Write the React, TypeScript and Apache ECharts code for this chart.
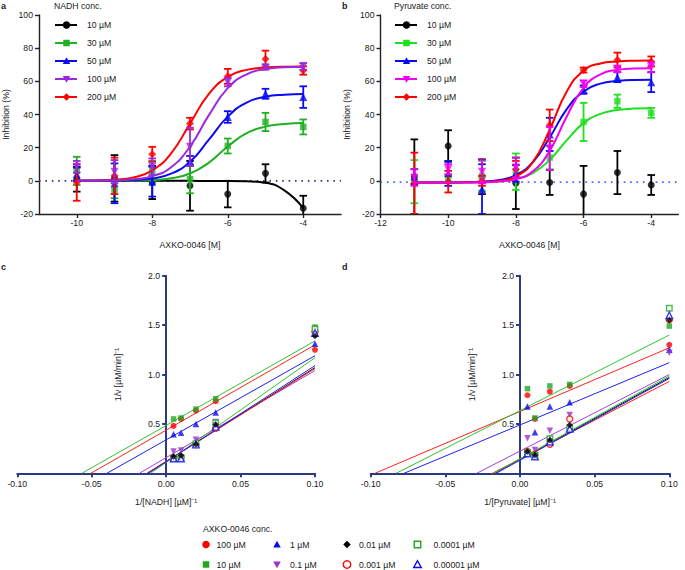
import React, { useEffect, useRef } from 'react';
import * as echarts from 'echarts';

const FONT = '"Liberation Sans", Arial, Helvetica, sans-serif';
const TXT = '#1a1a1a';
const NAVY = '#2c3a84';

// ---------- Panel a (NADH) ----------
const nadhConc = ['10 µM', '30 µM', '50 µM', '100 µM', '200 µM'];
const aX = [-10, -9, -8, -7, -6, -5, -4];
const aMean10 = [1, 1.5, -1, -3, -8, 4.5, -16.5];
const aErr10 = [7.5, 14, 10, 15, 8, 5.5, 7.5];
const aMean30 = [6, -5.5, 6, 1, 21, 35.5, 32.5];
const aErr30 = [8.5, 5, 6, 8.5, 4.5, 5.5, 4.5];
const aMean50 = [4, -1.5, -0.5, 12, 38.5, 52.5, 50.5];
const aErr50 = [4, 12, 9, 3, 3.5, 3, 6.5];
const aMean100 = [8.5, 5.5, 8.5, 20.5, 59.5, 68.5, 69];
const aErr100 = [3.5, 7, 5, 11.5, 2.5, 1.5, 2];
const aMean200 = [-1, 3, 16, 34.5, 63, 73.5, 66.5];
const aErr200 = [11, 11, 4.5, 3.5, 4.5, 5, 2.5];
const aCurveX = [-10, -9.5, -9, -8.5, -8, -7.5, -7, -6.5, -6, -5.5, -5, -4.5, -4];
const aCurve10 = [0, 0, 0, 0, 0, 0, 0, -0.1, -0.1, -0.3, -1.2, -5.8, -16.5];
const aCurve30 = [0, 0, 0.1, 0.2, 0.5, 1.5, 4.4, 11.0, 20.7, 28.7, 32.7, 34.2, 34.8];
const aCurve50 = [0, 0.1, 0.2, 0.5, 1.4, 4.3, 11.5, 24.8, 38.7, 47.2, 50.7, 51.9, 52.3];
const aCurve100 = [0, 0.1, 0.3, 0.9, 2.8, 8.2, 20.7, 39.6, 55.9, 64.2, 67.4, 68.5, 68.8];
const aCurve200 = [0.1, 0.2, 0.7, 2.1, 6.3, 16.6, 34.5, 52.4, 62.7, 66.9, 68.3, 68.8, 68.9];
const aBaseline = 0;

// ---------- Panel b (Pyruvate) ----------
const pyrConc = ['10 µM', '30 µM', '50 µM', '100 µM', '200 µM'];
const bX = [-11, -10, -9, -8, -7, -6, -5, -4];
const bMean10 = [2.5, 21, 2.5, -1.5, -1, -8, 5, -2.5];
const bErr10 = [22.5, 9.5, 10.5, 15.5, 7.5, 17, 13, 6];
const bMean30 = [-0.5, 1, 3, 5.5, 14, 35.5, 48, 41];
const bErr30 = [13, 2, 9, 11, 7, 11.5, 4, 3];
const bMean50 = [2.5, 4.5, -5, 4.5, 28, 55, 62.5, 59.5];
const bErr50 = [4.5, 7.5, 15, 5, 10, 2.5, 3, 6];
const bMean100 = [2, 7, 5.5, 8, 19.5, 58.5, 67.5, 68.5];
const bErr100 = [5, 3, 7, 6, 13, 2, 2, 3];
const bMean200 = [-1.5, -0.5, 0, 7, 33.5, 66.8, 72.8, 72];
const bErr200 = [18.5, 6.5, 3, 5, 9.5, 1.5, 4.5, 3];
const bCurveX = [-11, -10.5, -10, -9.5, -9, -8.5, -8, -7.5, -7, -6.5, -6, -5.5, -5, -4.5, -4];
const bCurve30 = [-1, -1, -1, -0.9, -0.75, -0.3, 1.1, 4.7, 12.6, 24.4, 34.8, 40.4, 42.7, 43.6, 43.8];
const bCurve50 = [-1, -1, -0.95, -0.85, -0.5, 0.5, 3.5, 11.2, 26.1, 43.1, 53.9, 58.6, 60.2, 60.8, 60.9];
const bCurve100 = [-1, -1, -1, -0.95, -0.85, -0.4, 1.0, 5.7, 18.1, 38.7, 56.1, 64.2, 66.9, 67.7, 67.9];
const bCurve200 = [-1, -1, -1, -0.9, -0.7, 0, 2.7, 11.3, 30.9, 53.7, 66.4, 70.8, 72.0, 72.4, 72.5];
const bBaseline = -0.8;

// ---------- Panels c/d (Lineweaver-Burk) ----------
const axkoConc = ['100 µM', '10 µM', '1 µM', '0.1 µM', '0.01 µM', '0.001 µM', '0.0001 µM', '0.00001 µM'];
const invS = [0.005, 0.01, 0.02, 0.0333, 0.1];
// panel c: 1/v for each AXKO conc (same order as axkoConc)
const c100 = [0.48, 0.55, 0.635, 0.73, 1.25];
const c10 = [0.55, 0.56, 0.65, 0.755, 1.48];
const c1 = [0.395, 0.41, 0.5, 0.615, 1.31];
const c01 = [0.22, 0.23, 0.34, 0.52, 1.4];
const c001 = [0.17, 0.18, 0.295, 0.495, 1.39];
const c0001 = [0.155, 0.165, 0.29, 0.455, 1.43];
const c00001 = [0.15, 0.16, 0.3, 0.51, 1.46];
const c000001 = [0.15, 0.15, 0.29, 0.47, 1.42];
// fit lines: [x-intercept, 1/v at x = 0.1]
const cFit = [
  [-0.0506, 1.3], [-0.0566, 1.34], [-0.0398, 1.19], [-0.018, 1.04],
  [-0.0125, 1.07], [-0.013, 1.06], [-0.0105, 1.17], [-0.012, 1.09],
];
// panel d
const d100 = [0.79, 0.55, 0.826, 0.884, 1.3];
const d10 = [0.857, 0.56, 0.884, 0.9, 1.49];
const d1 = [0.675, 0.415, 0.675, 0.718, 1.25];
const d01 = [0.354, 0.236, 0.43, 0.59, 1.22];
const d001 = [0.22, 0.185, 0.337, 0.49, 1.55];
const d0001 = [0.22, 0.19, 0.293, 0.549, 1.555];
const d00001 = [0.21, 0.18, 0.35, 0.46, 1.67];
const d000001 = [0.2, 0.17, 0.32, 0.45, 1.6];
const dFit = [
  [-0.0971, 1.27], [-0.083, 1.4], [-0.0777, 1.12], [-0.029, 1.0],
  [-0.017, 0.97], [-0.0185, 0.93], [-0.0175, 0.985], [-0.016, 0.96],
];

const doseTicksA = [-10, -8, -6, -4];
const doseTicksB = [-12, -10, -8, -6, -4];
const inhibTicks = [-20, 0, 20, 40, 60, 80, 100];
const lbXTicks = [-0.1, -0.05, 0, 0.05, 0.1];
const lbYTicks = [0.5, 1.0, 1.5, 2.0];

// ---------- styles ----------
const aColors = ['#000000', '#21b021', '#0a0af5', '#9b28dc', '#ff0000'];
const bColors = ['#000000', '#1fe01f', '#0a0af5', '#f000f0', '#ff0000'];
const abSymbols = ['circle', 'rect', 'triangle', 'down', 'diamond'];
const lbColors = ['#ff0000', '#1fa81f', '#0a0af0', '#9932cc', '#000000', '#ff0000', '#1fa81f', '#0a0af0'];
const lbLineColors = ['#ff2020', '#33c433', '#2020f0', '#a040dd', '#111111', '#ff2020', '#33c433', '#2020f0'];
const lbSymbols = ['circle', 'rect', 'triangle', 'down', 'diamond', 'circle', 'rect', 'triangle'];
const lbOpen = [false, false, false, false, false, true, true, true];

const GRIDS = [
  { left: 39, top: 15, width: 302, height: 199 },
  { left: 380.5, top: 15, width: 297.8, height: 199 },
  { left: 17.3, top: 275.7, width: 297.7, height: 197.6 },
  { left: 370.7, top: 275.7, width: 298.6, height: 197.6 },
];

const ecSymbol = (s: string) => (s === 'down' ? 'triangle' : s);

function marker(kind: string, cx: number, cy: number, s: number, color: string, open = false) {
  const style: any = open
    ? { fill: '#fff', stroke: color, lineWidth: 1.4 }
    : { fill: color };
  const h = s / 2;
  if (kind === 'circle') return { type: 'circle', shape: { cx, cy, r: h }, style };
  if (kind === 'rect') return { type: 'rect', shape: { x: cx - h, y: cy - h, width: s, height: s }, style };
  let pts: number[][] = [];
  if (kind === 'triangle') pts = [[cx, cy - h], [cx + h, cy + h * 0.8], [cx - h, cy + h * 0.8]];
  if (kind === 'down') pts = [[cx - h, cy - h * 0.8], [cx + h, cy - h * 0.8], [cx, cy + h]];
  if (kind === 'diamond') pts = [[cx, cy - h], [cx + h, cy], [cx, cy + h], [cx - h, cy]];
  return { type: 'polygon', shape: { points: pts }, style };
}

function text(x: number, y: number, t: string, opts: any = {}) {
  return {
    type: 'text',
    x,
    y,
    style: {
      text: t,
      fontFamily: FONT,
      fontSize: 8.7,
      fill: TXT,
      align: 'left',
      verticalAlign: 'middle',
      textAlign: 'left',
      textVerticalAlign: 'middle',
      ...opts,
    },
  };
}

function errorSeries(xs: number[], means: number[], errs: number[], color: string, idx: number, z: number) {
  return {
    type: 'custom',
    xAxisIndex: idx,
    yAxisIndex: idx,
    clip: true,
    silent: true,
    z,
    data: xs.map((x, k) => [x, means[k] - errs[k], means[k] + errs[k]]),
    encode: { x: 0, y: [1, 2] },
    renderItem: (params: any, api: any) => {
      const x = api.value(0);
      const lo = api.coord([x, api.value(1)]);
      const hi = api.coord([x, api.value(2)]);
      const w = 3.8;
      const st = { stroke: color, lineWidth: 1.8 };
      return {
        type: 'group',
        children: [
          { type: 'line', shape: { x1: hi[0], y1: hi[1], x2: lo[0], y2: lo[1] }, style: st },
          { type: 'line', shape: { x1: hi[0] - w, y1: hi[1], x2: hi[0] + w, y2: hi[1] }, style: st },
          { type: 'line', shape: { x1: lo[0] - w, y1: lo[1], x2: lo[0] + w, y2: lo[1] }, style: st },
        ],
      };
    },
  };
}

function doseSeries(
  idx: number, xs: number[], means: number[][], errs: number[][],
  curveX: number[], curves: (number[] | null)[], colors: string[], order: number[],
) {
  const out: any[] = [];
  order.forEach((i, oi) => {
    const z = 3 + oi * 0.1;
    const c = curves[i];
    if (c) {
      out.push({
        type: 'line', xAxisIndex: idx, yAxisIndex: idx, silent: true,
        data: curveX.map((x, k) => [x, c[k]]),
        smooth: 0.5, showSymbol: false, symbol: 'none',
        lineStyle: { color: colors[i], width: 2 }, z,
      });
    }
    out.push(errorSeries(xs, means[i], errs[i], colors[i], idx, z + 0.02));
    out.push({
      type: 'scatter', xAxisIndex: idx, yAxisIndex: idx, silent: true,
      data: xs.map((x, k) => [x, means[i][k]]),
      symbol: ecSymbol(abSymbols[i]),
      symbolRotate: abSymbols[i] === 'down' ? 180 : 0,
      symbolSize: abSymbols[i] === 'rect' ? 6.5 : abSymbols[i] === 'circle' ? 7 : 8,
      itemStyle: { color: colors[i] },
      z: z + 0.05,
    });
  });
  return out;
}

function lbSeries(idx: number, values: number[][], fits: number[][]) {
  const out: any[] = [];
  const xEnd = invS[invS.length - 1];
  fits.forEach((f, i) => {
    out.push({
      type: 'line', xAxisIndex: idx, yAxisIndex: idx, silent: true,
      data: [[f[0], 0], [xEnd, f[1]]],
      symbol: 'none', showSymbol: false,
      lineStyle: { color: lbLineColors[i], width: 1 }, z: 2,
    });
  });
  const order = [0, 1, 2, 3, 5, 6, 7, 4];
  order.forEach((i, oi) => {
    out.push({
      type: 'scatter', xAxisIndex: idx, yAxisIndex: idx, silent: true,
      data: invS.map((x, k) => [x, values[i][k]]),
      symbol: ecSymbol(lbSymbols[i]),
      symbolRotate: lbSymbols[i] === 'down' ? 180 : 0,
      symbolSize: lbSymbols[i] === 'rect' ? 5.5 : lbSymbols[i] === 'circle' ? 6 : 6.5,
      itemStyle: lbOpen[i]
        ? { color: '#fff', borderColor: lbColors[i], borderWidth: 1.4 }
        : { color: lbColors[i] },
      z: 4 + oi * 0.1,
    });
  });
  return out;
}

const labelStyle = { fontFamily: FONT, fontSize: 8.7, color: TXT };

function doseXAxis(grid: number, min: number, max: number, ticks: number[]) {
  return {
    type: 'value', gridIndex: grid, min, max,
    name: 'AXKO-0046 [M]', nameLocation: 'middle', nameGap: 26.5,
    nameTextStyle: { ...labelStyle },
    axisLine: { onZero: false, lineStyle: { color: '#222', width: 1.4 } },
    axisTick: { show: true, length: 4, customValues: ticks, lineStyle: { color: '#222', width: 1.4 } },
    axisLabel: { customValues: ticks, margin: 4, ...labelStyle },
    splitLine: { show: false },
  };
}
function inhibYAxis(grid: number) {
  return {
    type: 'value', gridIndex: grid, min: -20, max: 100, interval: 20,
    name: 'Inhibition (%)', nameLocation: 'middle', nameGap: 29,
    nameTextStyle: { ...labelStyle },
    axisLine: { show: true, onZero: false, lineStyle: { color: '#222', width: 1.4 } },
    axisTick: { show: true, length: 4, customValues: inhibTicks, lineStyle: { color: '#222', width: 1.4 } },
    axisLabel: { customValues: inhibTicks, margin: 6, ...labelStyle },
    splitLine: { show: false },
  };
}
function lbXAxis(grid: number, name: string) {
  return {
    type: 'value', gridIndex: grid, min: -0.1, max: 0.1,
    name, nameLocation: 'middle', nameGap: 24,
    nameTextStyle: { ...labelStyle },
    axisLine: { onZero: false, lineStyle: { color: NAVY, width: 2 } },
    axisTick: { show: true, length: 4, customValues: lbXTicks, lineStyle: { color: NAVY, width: 2 } },
    axisLabel: { customValues: lbXTicks, margin: 6, formatter: (v: number) => v.toFixed(2), ...labelStyle },
    splitLine: { show: false },
  };
}
// y axis drawn at x = 0: shifted inward from the grid's left edge by half the grid width
function lbYAxis(grid: number) {
  const shift = GRIDS[grid].width * (0 - -0.1) / 0.2;
  return {
    type: 'value', gridIndex: grid, min: 0, max: 2,
    offset: -shift,
    name: '1/v [µM/min]⁻¹', nameLocation: 'middle', nameGap: 44,
    nameTextStyle: { ...labelStyle },
    axisLine: { show: true, onZero: false, lineStyle: { color: NAVY, width: 2 } },
    axisTick: { show: true, length: 4, customValues: lbYTicks, lineStyle: { color: NAVY, width: 2 } },
    axisLabel: { customValues: lbYTicks, margin: 6, formatter: (v: number) => v.toFixed(1), ...labelStyle },
    splitLine: { show: false },
  };
}

function baseline(idx: number, x0: number, x1: number, y: number, color: string) {
  return {
    type: 'line', xAxisIndex: idx, yAxisIndex: idx, silent: true,
    data: [[x0, y], [x1, y]], symbol: 'none', showSymbol: false,
    lineStyle: { color, width: 1.6, type: [1.6, 4.8] }, z: 1,
  };
}

function buildGraphic() {
  const g: any[] = [];
  g.push(text(1, 6, 'a', { fontWeight: 'bold', fontSize: 9 }));
  g.push(text(342, 6, 'b', { fontWeight: 'bold', fontSize: 9 }));
  g.push(text(1, 267, 'c', { fontWeight: 'bold', fontSize: 9 }));
  g.push(text(342, 267, 'd', { fontWeight: 'bold', fontSize: 9 }));
  const rows = [25, 43, 61, 79, 97];
  const leg = (x0: number, title: string, names: string[], colors: string[]) => {
    g.push(text(x0 - 1, 6, title));
    names.forEach((n, i) => {
      const y = rows[i];
      g.push({ type: 'line', shape: { x1: x0, y1: y, x2: x0 + 22, y2: y }, style: { stroke: colors[i], lineWidth: 2 } });
      g.push(marker(abSymbols[i], x0 + 11.5, y, abSymbols[i] === 'rect' ? 6.5 : 7.5, colors[i]));
      g.push(text(x0 + 32, y, n));
    });
  };
  leg(55, 'NADH conc.', nadhConc, aColors);
  leg(395, 'Pyruvate conc.', pyrConc, bColors);
  // bottom legend
  g.push(text(203, 529, 'AXKO-0046 conc.'));
  const colX = [206, 277, 347, 417.5];
  const txtX = [216.5, 290, 359, 433.5];
  const rowY = [544.5, 564.5];
  axkoConc.forEach((n, i) => {
    const col = Math.floor(i / 2);
    const row = i % 2;
    const s = lbSymbols[i] === 'rect' ? 6.5 : 7.5;
    g.push(marker(lbSymbols[i], colX[col], rowY[row], s, lbColors[i], lbOpen[i]));
    g.push(text(txtX[col], rowY[row], n));
  });
  return g;
}

function buildOption() {
  const series: any[] = [];
  series.push(baseline(0, -11, -3, aBaseline, NAVY));
  series.push(baseline(1, -12, -3.2, bBaseline, '#4a5ee6'));
  series.push(
    ...doseSeries(
      0, aX,
      [aMean10, aMean30, aMean50, aMean100, aMean200],
      [aErr10, aErr30, aErr50, aErr100, aErr200],
      aCurveX, [aCurve10, aCurve30, aCurve50, aCurve100, aCurve200],
      aColors, [0, 1, 2, 4, 3],
    ),
  );
  series.push(
    ...doseSeries(
      1, bX,
      [bMean10, bMean30, bMean50, bMean100, bMean200],
      [bErr10, bErr30, bErr50, bErr100, bErr200],
      bCurveX, [null, bCurve30, bCurve50, bCurve100, bCurve200],
      bColors, [0, 1, 2, 4, 3],
    ),
  );
  series.push(...lbSeries(2, [c100, c10, c1, c01, c001, c0001, c00001, c000001], cFit));
  series.push(...lbSeries(3, [d100, d10, d1, d01, d001, d0001, d00001, d000001], dFit));

  return {
    animation: false,
    backgroundColor: '#ffffff',
    textStyle: { fontFamily: FONT },
    grid: GRIDS.map((g) => ({ ...g, containLabel: false, outerBoundsMode: 'none' })),
    xAxis: [
      doseXAxis(0, -11, -3, doseTicksA),
      doseXAxis(1, -12, -3.2, doseTicksB),
      lbXAxis(2, '1/[NADH] [µM]⁻¹'),
      lbXAxis(3, '1/[Pyruvate] [µM]⁻¹'),
    ],
    yAxis: [inhibYAxis(0), inhibYAxis(1), lbYAxis(2), lbYAxis(3)],
    series,
    graphic: buildGraphic(),
  };
}

export default function App() {
  const ref = useRef<HTMLDivElement>(null);
  useEffect(() => {
    if (!ref.current) return;
    const chart = echarts.init(ref.current, null, { renderer: 'svg' });
    chart.setOption(buildOption() as any);
    return () => chart.dispose();
  }, []);
  return (
    <div
      ref={ref}
      style={{ position: 'fixed', left: 0, top: 0, width: 685, height: 570, background: '#fff' }}
    />
  );
}
